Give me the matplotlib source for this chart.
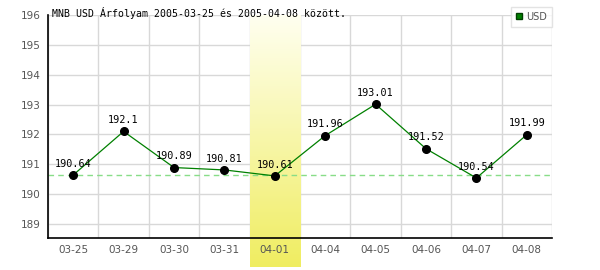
import matplotlib.pyplot as plt
from matplotlib.lines import Line2D
import numpy as np

# MNB USD rates
dates = ['03-25', '03-29', '03-30', '03-31', '04-01',
         '04-04', '04-05', '04-06', '04-07', '04-08']
rates = [190.64, 192.1, 190.89, 190.81, 190.61,
         191.96, 193.01, 191.52, 190.54, 191.99]
labels = ['190.64', '192.1', '190.89', '190.81', '190.61',
          '191.96', '193.01', '191.52', '190.54', '191.99']
highlight = '04-01'
yticks = [189, 190, 191, 192, 193, 194, 195, 196]

fig = plt.figure(figsize=(6, 2.7), dpi=100)
ax = fig.add_axes([48/600, 32/270, 504/600, 223/270])

x = np.arange(len(dates))
ylo, yhi = 188.53, 196

# grid
for v in yticks:
    ax.axhline(v, color='#d8d8d8', lw=1, zorder=0)
for b in np.arange(len(dates) + 1) - 0.5:
    ax.axvline(b, color='#d8d8d8', lw=1, zorder=0)

# highlighted day, gradient band going below the axis
hi = dates.index(highlight)
grad = np.linspace(0, 1, 100)[:, None]
top = np.array([1.0, 1.0, 0.94])
bot = np.array([0.94, 0.93, 0.38])
img = top + grad[..., None] * (bot - top)
ax.imshow(img, extent=(hi - 0.5, hi + 0.5, 187.56, yhi), aspect='auto',
          origin='upper', clip_on=False, zorder=1)

# reference line at first value
ax.axhline(rates[0], color='#88dd88', lw=1, ls=(0, (4, 3)), zorder=2)

ax.plot(x, rates, color='#008000', lw=0.9, zorder=3)
ax.plot(x, rates, 'o', color='black', ms=5.5, zorder=4)
for xi, r, t in zip(x, rates, labels):
    ax.annotate(t, (xi, r), xytext=(0, 4.5), textcoords='offset points',
                ha='center', va='bottom', fontsize=7.3, family='DejaVu Sans Mono',
                zorder=5)

ax.set_xlim(-0.5, len(dates) - 0.5)
ax.set_ylim(ylo, yhi)
ax.set_xticks(x)
ax.set_xticklabels(dates)
ax.set_yticks(yticks)
ax.tick_params(length=0, labelsize=7.5, labelcolor='#555555', pad=5)
for s in ['top', 'right']:
    ax.spines[s].set_visible(False)
for s in ['left', 'bottom']:
    ax.spines[s].set_color('black')
    ax.spines[s].set_linewidth(1.2)
ax.set_facecolor('white')

fig.text(52/600, 1 - 17/270, 'MNB USD Árfolyam 2005-03-25 és 2005-04-08 között.',
         fontsize=7.1, family='DejaVu Sans Mono', va='baseline')

h = Line2D([], [], ls='none', marker='s', ms=5, color='#008000',
           markeredgecolor='#004000')
leg = fig.legend([h], ['USD'], loc='upper right',
                 bbox_to_anchor=(552/600, 1 - 7/270), fontsize=7,
                 frameon=True, fancybox=False, handlelength=0.8,
                 handletextpad=0.3, borderpad=0.5, borderaxespad=0)
leg.get_frame().set_edgecolor('#dddddd')
leg.get_frame().set_linewidth(1)
for t in leg.get_texts():
    t.set_color('#555555')

fig.savefig('out.png', dpi=100)
